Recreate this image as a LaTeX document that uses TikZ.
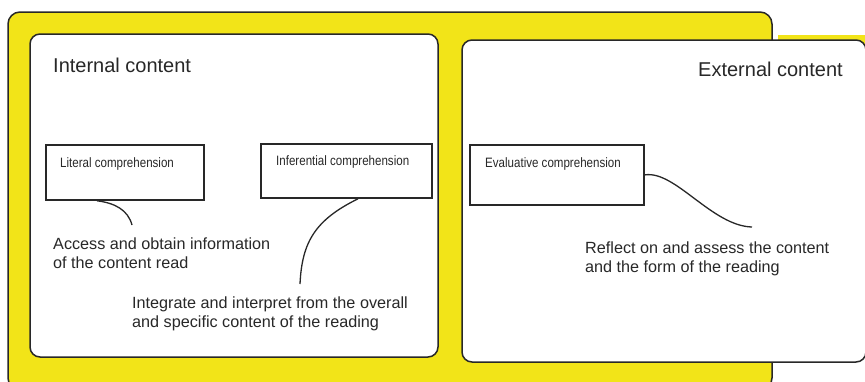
\documentclass[tikz,border=0pt]{standalone}
\usepackage{fontspec}
\setmainfont{Liberation Sans}
\usetikzlibrary{calc}
\definecolor{yel}{RGB}{242,228,24}
\definecolor{ink}{RGB}{40,40,40}
\begin{document}
\begin{tikzpicture}[x=1pt,y=-1pt,
  panel/.style={draw=ink, line width=1.5pt, fill=white, rounded corners=10pt},
  outerpanel/.style={draw=ink, line width=1.5pt, fill=yel, rounded corners=12pt},
  compbox/.style={draw=ink, line width=1.8pt, fill=white, rectangle, inner sep=0pt, anchor=north west},
  smalllabel/.style={anchor=base west, inner sep=0pt, text=ink, font=\fontsize{13.6}{16}\selectfont},
  titlelabel/.style={anchor=base west, inner sep=0pt, text=ink, font=\fontsize{20}{24}\selectfont},
  desc/.style={anchor=base west, inner sep=0pt, align=left, text=ink, font=\fontsize{16.2}{18.5}\selectfont},
  link/.style={draw=ink, line width=1.3pt}]
\useasboundingbox (0,0) rectangle (865,381);
\clip (0,0) rectangle (865,381);
% backgrounds
\fill[white] (0,0) rectangle (865,381);
\path[outerpanel] (8,12) rectangle (772,390);
\fill[yel] (778,35) rectangle (870,60);
\path[panel] (30,34) rectangle (438,357);
\path[panel] (462,40) rectangle (866,362);
% titles
\node[titlelabel] (intT) at (53,72) {Internal content};
\node[titlelabel] (extT) at (698,76) {External content};
% comprehension boxes
\node[compbox, minimum width=158pt, minimum height=55pt] (lit) at (45,144) {};
\node[compbox, minimum width=171pt, minimum height=54pt] (inf) at (260,143) {};
\node[compbox, minimum width=174pt, minimum height=60pt] (eva) at (469,144) {};
\node[smalllabel] (litT) at (60,167) {\scalebox{0.85}[1]{Literal comprehension}};
\node[smalllabel] (infT) at (276,165) {\scalebox{0.85}[1]{Inferential comprehension}};
\node[smalllabel] (evaT) at (485,167) {\scalebox{0.85}[1]{Evaluative comprehension}};
% descriptions (anchor = baseline of last line)
\node[desc] (accT) at (53,268) {Access and obtain information\\of the content read};
\node[desc] (intgT) at (132,327) {Integrate and interpret from the overall\\and specific content of the reading};
\node[desc] (refT) at (585,272) {Reflect on and assess the content\\and the form of the reading};
% connectors
\coordinate (c1) at (132,225);
\coordinate (c2) at (300,284);
\coordinate (c3) at (752,227);
\draw[link] ($(lit.south west)+(52,0)$) .. controls (115,203) and (128,210) .. (c1);
\draw[link] ($(inf.south west)+(98,0)$) .. controls (315,220) and (302,242) .. (c2);
\draw[link] (eva.east) .. controls (675,170) and (712,226) .. (c3);
\end{tikzpicture}
\end{document}
